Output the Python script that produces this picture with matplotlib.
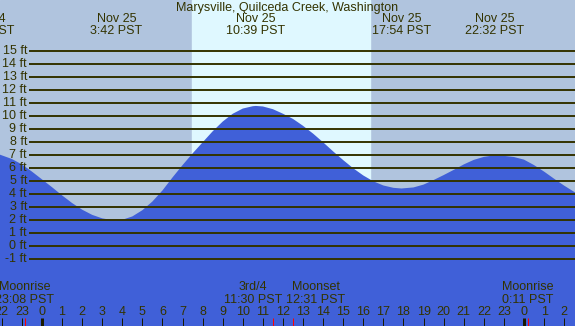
import matplotlib
matplotlib.use('Agg')
import matplotlib.pyplot as plt
from matplotlib import transforms

# tide readings: hour of Nov 25 (PST) and height in ft
tide_hours = [-2.09, -1.5, -1.0, -0.5, 0.0, 0.5, 1.0, 1.5, 2.0, 2.5,
              3.0, 3.5, 3.7, 4.0, 4.5, 5.0, 5.5, 6.0, 6.5, 7.0,
              7.5, 8.0, 8.5, 9.0, 9.5, 10.0, 10.5, 10.65, 11.0, 11.5,
              12.0, 12.5, 13.0, 13.5, 14.0, 14.5, 15.0, 15.5, 16.0, 16.5,
              17.0, 17.5, 17.9, 18.5, 19.0, 19.5, 20.0, 20.5, 21.0, 21.5,
              22.0, 22.53, 23.0, 23.5, 24.0, 24.5, 25.0, 25.5, 26.0, 26.54]
tide_ft = [7.05, 6.72, 6.30, 5.75, 5.15, 4.55, 3.92, 3.33, 2.82, 2.42,
           2.15, 2.02, 2.00, 2.04, 2.30, 2.78, 3.45, 4.30, 5.30, 6.25,
           7.15, 8.00, 8.85, 9.60, 10.20, 10.60, 10.78, 10.80, 10.76, 10.55,
           10.20, 9.80, 9.27, 8.67, 8.00, 7.30, 6.63, 6.00, 5.45, 5.00,
           4.68, 4.50, 4.45, 4.53, 4.75, 5.10, 5.48, 5.88, 6.30, 6.65,
           6.88, 7.00, 6.96, 6.87, 6.67, 6.25, 5.75, 5.20, 4.67, 4.15]

# high / low events shown at the top
event_hours = [-2.82, 3.70, 10.65, 17.90, 22.53]
event_days = ['Nov 24', 'Nov 25', 'Nov 25', 'Nov 25', 'Nov 25']
event_times = ['21:11 PST', '3:42 PST', '10:39 PST', '17:54 PST', '22:32 PST']

sunrise, sunset = 7.47, 16.33

# moon events at the bottom
moon_hours = [-0.87, 11.50, 12.52, 24.18]
moon_names = ['Moonrise', '3rd/4', 'Moonset', 'Moonrise']
moon_times = ['23:08 PST', '11:30 PST', '12:31 PST', '0:11 PST']
moon_shift = [0.0, -1.0, 1.1, 0.0]  # label offset in hours to avoid overlap

levels = list(range(-1, 16))
hour_ticks = list(range(-2, 27))

xmin, xmax = -2.09, 26.54
ymin, ymax = -6.13, 18.95

txt = '#333300'
plt.rcParams['font.family'] = ['Liberation Sans', 'DejaVu Sans']
plt.rcParams['font.size'] = 9.0

fig = plt.figure(figsize=(5.75, 3.26), dpi=100)
ax = fig.add_axes([0, 0, 1, 1])
ax.set_xlim(xmin, xmax)
ax.set_ylim(ymin, ymax)
ax.axis('off')

# night / day background
ax.axvspan(xmin, xmax, color='#b0c4de', zorder=0)
ax.axvspan(sunrise, sunset, color='#dff8ff', zorder=1)

# tide curve
ax.fill_between(tide_hours, ymin, tide_ft, color='#4060d8', lw=0, zorder=2)

# level lines and labels
for lv in levels:
    ax.plot([-0.65, xmax], [lv, lv], color=txt, lw=1.4, zorder=3, solid_capstyle='butt')
    ax.text(-0.74, lv, '%d ft' % lv, ha='right', va='center', color=txt, zorder=4)

tr = transforms.blended_transform_factory(ax.transData, ax.transAxes)

ax.text(12.2, 1 - 8 / 326, 'Marysville, Quilceda Creek, Washington',
        ha='center', va='center', color=txt, transform=tr)
for h, d, t in zip(event_hours, event_days, event_times):
    ax.text(h, 1 - 19.5 / 326, d, ha='center', va='center', color=txt, transform=tr)
    ax.text(h, 1 - 31 / 326, t, ha='center', va='center', color=txt, transform=tr)

# hour ticks and labels
for h in hour_ticks:
    w = 3 if h % 24 == 0 else 1
    ax.plot([h, h], [0, 8 / 326], color='#1a1a00', lw=w * 0.72, transform=tr,
            zorder=5, solid_capstyle='butt')
    ax.text(h, 1 - 311.7 / 326, str(h % 24), ha='center', va='center',
            color=txt, transform=tr)

for h, n, t, s in zip(moon_hours, moon_names, moon_times, moon_shift):
    ax.plot([h, h], [0, 8 / 326], color='red', lw=0.72, transform=tr, zorder=6,
            solid_capstyle='butt')
    ax.text(h + s, 1 - 287.5 / 326, n, ha='center', va='center', color=txt, transform=tr)
    ax.text(h + s, 1 - 300 / 326, t, ha='center', va='center', color=txt, transform=tr)

fig.savefig('out.png', dpi=100)
